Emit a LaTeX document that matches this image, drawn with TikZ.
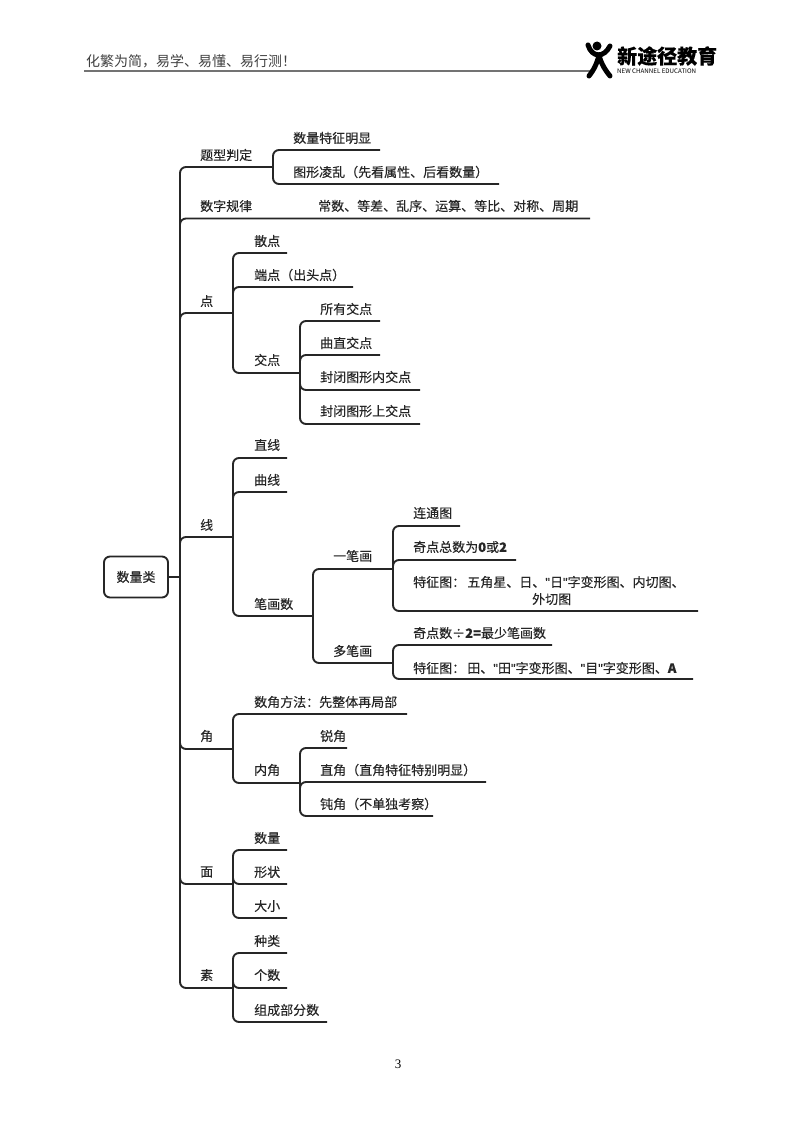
\documentclass[tikz,border=0pt]{standalone}
\usepackage{fontspec}
\setmainfont[FakeBold=0.25]{Noto Sans CJK SC}
\newfontfamily\headfont{Noto Sans CJK SC}
\newfontfamily\quotefont[FakeBold=0.6]{Liberation Sans}
\newfontfamily\pagefont{Liberation Serif}
\newcommand{\qmark}{{\quotefont"}}
\usetikzlibrary{positioning}

\tikzset{
    lab/.style={anchor=west, inner sep=0pt, yshift=-1pt, font=\fontsize{13}{15}\selectfont, text=black!85},
    link/.style={line width=1.9pt, rounded corners=6pt, color=black!85},
}

\begin{document}
\begin{tikzpicture}[x=1pt, y=-1pt]
    \useasboundingbox (0,0) rectangle (800,1124);

    % header
    \node[anchor=west, inner sep=0pt, font=\headfont\fontsize{14}{16}\selectfont, text=black!75] (motto) at (86,61) {化繁为简，易学、易懂、易行测！};
    \coordinate (ruleL) at (84,71);
    \coordinate (ruleR) at (590,71);
    \draw[line width=1.1pt, black!55] (ruleL) -- (ruleR);
    \node[anchor=west, inner sep=0pt, font=\fontsize{20}{22}\selectfont\bfseries] (brand) at (617,56) {新途径教育};
    \node[anchor=west, inner sep=0pt, font=\headfont\fontsize{6.2}{7}\selectfont] (brandEn) at (617,71) {NEW CHANNEL EDUCATION};
    \fill (597,46) circle (4.5pt);
    \draw[line width=5pt, line cap=round] (588,45) .. controls (592,58) and (604,58) .. (610,46);
    \draw[line width=5pt, line cap=round] (599,55) .. controls (597,64) and (593,71) .. (589,76);
    \draw[line width=5pt, line cap=round] (599,55) .. controls (601,64) and (606,71) .. (610,76);

    % root
    \node[draw, line width=1.9pt, rounded corners=6pt, minimum width=64pt, minimum height=41pt, inner sep=0pt, font=\fontsize{13}{15}\selectfont, color=black!85] (root) at (136,577) {数量类};
    \coordinate (trunk) at (180,577);
    \draw[link] (root.east) -- (trunk);

    % first level
    \node[lab] (tixing) at (200,154) {题型判定};
    \coordinate (tixingE) at (273,167);
    \node[lab] (shuzi) at (200,205) {数字规律};
    \node[lab] (shuziB) at (318,205) {常数、等差、乱序、运算、等比、对称、周期};
    \coordinate (shuziE) at (590,218.5);
    \node[lab] (dian) at (200,300) {点};
    \coordinate (dianE) at (233,313);
    \node[lab] (xian) at (200,524) {线};
    \coordinate (xianE) at (233,537);
    \node[lab] (jiao) at (200,735) {角};
    \coordinate (jiaoE) at (233,749);
    \node[lab] (mian) at (200,871) {面};
    \coordinate (mianE) at (233,884);
    \node[lab] (su) at (200,974) {素};
    \coordinate (suE) at (233,988);

    \foreach \e in {tixingE, shuziE, dianE, xianE, jiaoE, mianE, suE}
        \draw[link] (trunk) |- (\e);

    % tixing
    \node[lab] (mingxian) at (293,137) {数量特征明显};
    \coordinate (mingxianE) at (380,150);
    \node[lab] (lingluan) at (293,171) {图形凌乱（先看属性、后看数量）};
    \coordinate (lingluanE) at (499,184);
    \foreach \e in {mingxianE, lingluanE}
        \draw[link] (tixingE) |- (\e);

    % dian
    \node[lab] (sandian) at (254,240) {散点};
    \coordinate (sandianE) at (287,253);
    \node[lab] (duandian) at (254,274) {端点（出头点）};
    \coordinate (duandianE) at (353,287);
    \node[lab] (jiaodian) at (254,359) {交点};
    \coordinate (jiaodianE) at (300,373);
    \foreach \e in {sandianE, duandianE, jiaodianE}
        \draw[link] (dianE) |- (\e);

    \node[lab] (suoyou) at (320,308) {所有交点};
    \coordinate (suoyouE) at (380,321);
    \node[lab] (quzhi) at (320,342) {曲直交点};
    \coordinate (quzhiE) at (380,355);
    \node[lab] (neijiao) at (320,376) {封闭图形内交点};
    \coordinate (neijiaoE) at (420,390);
    \node[lab] (shangjiao) at (320,410) {封闭图形上交点};
    \coordinate (shangjiaoE) at (420,424);
    \foreach \e in {suoyouE, quzhiE, neijiaoE, shangjiaoE}
        \draw[link] (jiaodianE) |- (\e);

    % xian
    \node[lab] (zhixian) at (254,444) {直线};
    \coordinate (zhixianE) at (287,458);
    \node[lab] (quxian) at (254,479) {曲线};
    \coordinate (quxianE) at (287,492);
    \node[lab] (bihua) at (254,603) {笔画数};
    \coordinate (bihuaE) at (313,616);
    \foreach \e in {zhixianE, quxianE, bihuaE}
        \draw[link] (xianE) |- (\e);

    \node[lab] (yibi) at (333,555) {一笔画};
    \coordinate (yibiE) at (393,569);
    \node[lab] (duobi) at (333,650) {多笔画};
    \coordinate (duobiE) at (393,663);
    \foreach \e in {yibiE, duobiE}
        \draw[link] (bihuaE) |- (\e);

    \node[lab] (liantong) at (413,512) {连通图};
    \coordinate (liantongE) at (460,526);
    \node[lab] (jidian) at (413,546) {奇点总数为{\bfseries 0}或{\bfseries 2}};
    \coordinate (jidianE) at (516,560);
    \node[lab] (tezheng) at (413,581) {特征图：\,五角星、日、\qmark 日\qmark 字变形图、内切图、};
    \node[lab] (waiqie) at (532,598) {外切图};
    \coordinate (tezhengE) at (698,611);
    \foreach \e in {liantongE, jidianE, tezhengE}
        \draw[link] (yibiE) |- (\e);

    \node[lab] (jishu) at (413,632) {奇点数÷{\bfseries 2=}最少笔画数};
    \coordinate (jishuE) at (552,645);
    \node[lab] (tezhengB) at (413,667) {特征图：\,田、\qmark 田\qmark 字变形图、\qmark 目\qmark 字变形图、{\bfseries A}};
    \coordinate (tezhengBE) at (693,679);
    \foreach \e in {jishuE, tezhengBE}
        \draw[link] (duobiE) |- (\e);

    % jiao
    \node[lab] (fangfa) at (254,701) {数角方法：先整体再局部};
    \coordinate (fangfaE) at (407,714);
    \node[lab] (neijiaoB) at (254,769) {内角};
    \coordinate (neijiaoBE) at (300,783);
    \foreach \e in {fangfaE, neijiaoBE}
        \draw[link] (jiaoE) |- (\e);

    \node[lab] (ruijiao) at (320,735) {锐角};
    \coordinate (ruijiaoE) at (347,748);
    \node[lab] (zhijiao) at (320,769) {直角（直角特征特别明显）};
    \coordinate (zhijiaoE) at (486,782);
    \node[lab] (dunjiao) at (320,803) {钝角（不单独考察）};
    \coordinate (dunjiaoE) at (433,816);
    \foreach \e in {ruijiaoE, zhijiaoE, dunjiaoE}
        \draw[link] (neijiaoBE) |- (\e);

    % mian
    \node[lab] (shuliang) at (254,837) {数量};
    \coordinate (shuliangE) at (287,850);
    \node[lab] (xingzhuang) at (254,871) {形状};
    \coordinate (xingzhuangE) at (287,884);
    \node[lab] (daxiao) at (254,905) {大小};
    \coordinate (daxiaoE) at (287,918);
    \foreach \e in {shuliangE, xingzhuangE, daxiaoE}
        \draw[link] (mianE) |- (\e);

    % su
    \node[lab] (zhonglei) at (254,940) {种类};
    \coordinate (zhongleiE) at (287,953);
    \node[lab] (geshu) at (254,974) {个数};
    \coordinate (geshuE) at (287,988);
    \node[lab] (zucheng) at (254,1009) {组成部分数};
    \coordinate (zuchengE) at (327,1022);
    \foreach \e in {zhongleiE, geshuE, zuchengE}
        \draw[link] (suE) |- (\e);

    % page number
    \node[inner sep=0pt, font=\pagefont\fontsize{13}{15}\selectfont] (pageno) at (398,1064) {3};
\end{tikzpicture}
\end{document}
